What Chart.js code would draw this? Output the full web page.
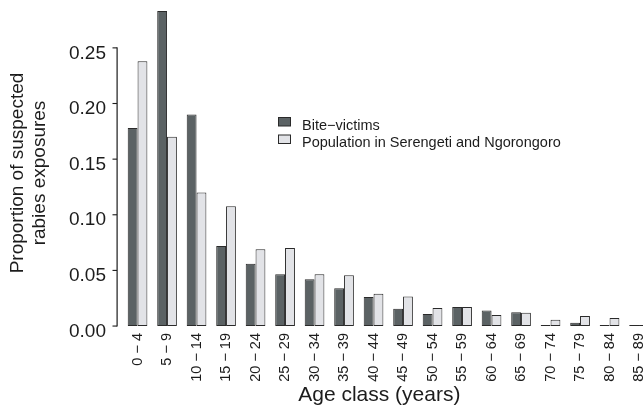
<!DOCTYPE html>
<html>
<head>
<meta charset="utf-8">
<script src="https://cdn.jsdelivr.net/npm/chart.js@4/dist/chart.umd.min.js"></script>
<style>
  html, body { margin: 0; padding: 0; background: #ffffff; overflow: hidden; width: 643px; height: 408px; }
  #wrap { width: 660px; height: 408px; }
</style>
</head>
<body>
<div id="wrap"><canvas id="chart" width="660" height="408"></canvas></div>
<script>
// Age classes (years)
const ageClasses = ['0 \u2212 4', '5 \u2212 9', '10 \u2212 14', '15 \u2212 19', '20 \u2212 24', '25 \u2212 29',
  '30 \u2212 34', '35 \u2212 39', '40 \u2212 44', '45 \u2212 49', '50 \u2212 54', '55 \u2212 59',
  '60 \u2212 64', '65 \u2212 69', '70 \u2212 74', '75 \u2212 79', '80 \u2212 84', '85 \u2212 89'];

// Proportion of suspected rabies exposures among bite victims
const biteVictims = [0.178, 0.283, 0.190, 0.072, 0.056, 0.0465, 0.042, 0.034, 0.026, 0.0156,
  0.0108, 0.017, 0.014, 0.0123, 0, 0.003, 0, 0];

// Age structure of the population in Serengeti and Ngorongoro
const population = [0.238, 0.170, 0.120, 0.1076, 0.069, 0.070, 0.0465, 0.0456, 0.029, 0.0264,
  0.0162, 0.017, 0.0099, 0.012, 0.0057, 0.009, 0.0072, 0];

const seriesNames = ['Bite\u2212victims', 'Population in Serengeti and Ngorongoro'];
const yTickValues = [0, 0.05, 0.10, 0.15, 0.20, 0.25];
const yTitle = ['Proportion of suspected', 'rabies exposures'];
const xTitle = 'Age class (years)';

const FONT = '"Liberation Sans", Arial, Helvetica, sans-serif';
const INK = '#1c1c1c';

// R-style axis: a line spanning the tick range, set slightly apart from the bars
const axisAndLegend = {
  id: 'axisAndLegend',
  afterDraw(chart) {
    const ctx = chart.ctx;
    const y = chart.scales.y;
    const area = chart.chartArea;
    const ax = Math.round(area.left - 5.5);
    const y0 = y.getPixelForValue(yTickValues[0]);
    const y1 = y.getPixelForValue(yTickValues[yTickValues.length - 1]);
    ctx.save();
    ctx.fillStyle = INK;
    ctx.fillRect(ax - 0.5, y1 - 0.5, 1.2, y0 - y1 + 1);
    yTickValues.forEach(v => {
      const py = y.getPixelForValue(v);
      ctx.fillRect(ax - 4.5, py - 0.5, 4.5, 1.1);
    });

    // x-axis title
    ctx.fillStyle = INK;
    ctx.font = '21px ' + FONT;
    ctx.textAlign = 'center';
    ctx.textBaseline = 'alphabetic';
    ctx.fillText(xTitle, (area.left + area.right) / 2 - 9, 401);

    // legend
    ctx.font = '14.5px ' + FONT;
    ctx.textAlign = 'left';
    ctx.textBaseline = 'middle';
    ctx.lineWidth = 1;
    chart.data.datasets.forEach((ds, i) => {
      const top = 117 + i * 17.5;
      ctx.fillStyle = ds.backgroundColor;
      ctx.fillRect(278.5, top + 0.5, 12, 8.5);
      ctx.strokeStyle = '#2a2a2a';
      ctx.strokeRect(278.5, top + 0.5, 12, 8.5);
      ctx.fillStyle = INK;
      ctx.fillText(ds.label, 302, top + 8.5);
    });
    ctx.restore();
  }
};

new Chart(document.getElementById('chart'), {
  type: 'bar',
  data: {
    labels: ageClasses,
    datasets: [
      {
        label: seriesNames[0],
        data: biteVictims,
        backgroundColor: '#5b6264',
        borderColor: '#2a2a2a',
        borderWidth: 1,
        borderSkipped: false,
        minBarLength: 1,
        clip: false
      },
      {
        label: seriesNames[1],
        data: population,
        backgroundColor: '#e2e3e7',
        borderColor: '#2a2a2a',
        borderWidth: 1,
        borderSkipped: false,
        minBarLength: 1,
        clip: false
      }
    ]
  },
  options: {
    responsive: false,
    animation: false,
    devicePixelRatio: 1,
    layout: { padding: { top: 20, right: 6.2, left: 0, bottom: 0 } },
    datasets: { bar: { categoryPercentage: 0.667, barPercentage: 1.0 } },
    plugins: {
      legend: { display: false },
      tooltip: { enabled: false }
    },
    scales: {
      x: {
        grid: { display: false, drawTicks: false },
        border: { display: false },
        ticks: {
          autoSkip: false,
          maxRotation: 90,
          minRotation: 90,
          padding: 7,
          color: INK,
          font: { family: FONT, size: 14.5 }
        },
        afterFit(scale) {
          scale.height = 82;
          scale.paddingLeft = 0;
          scale.paddingRight = 0;
        }
      },
      y: {
        min: 0,
        max: 0.275,
        grid: { display: false, drawTicks: false },
        border: { display: false },
        afterBuildTicks(scale) { scale.ticks = yTickValues.map(v => ({ value: v })); },
        ticks: {
          padding: 16.8,
          labelOffset: 5.5,
          color: INK,
          font: { family: FONT, size: 19 },
          callback: v => Number(v).toFixed(2)
        },
        title: {
          display: true,
          text: yTitle,
          color: INK,
          font: { family: FONT, size: 19 },
          padding: { top: 6, bottom: 0 }
        },
        afterFit(scale) {
          scale.width = 122.8;
          scale.paddingTop = 0;
          scale.paddingBottom = 0;
        }
      }
    }
  },
  plugins: [axisAndLegend]
});
</script>
</body>
</html>
